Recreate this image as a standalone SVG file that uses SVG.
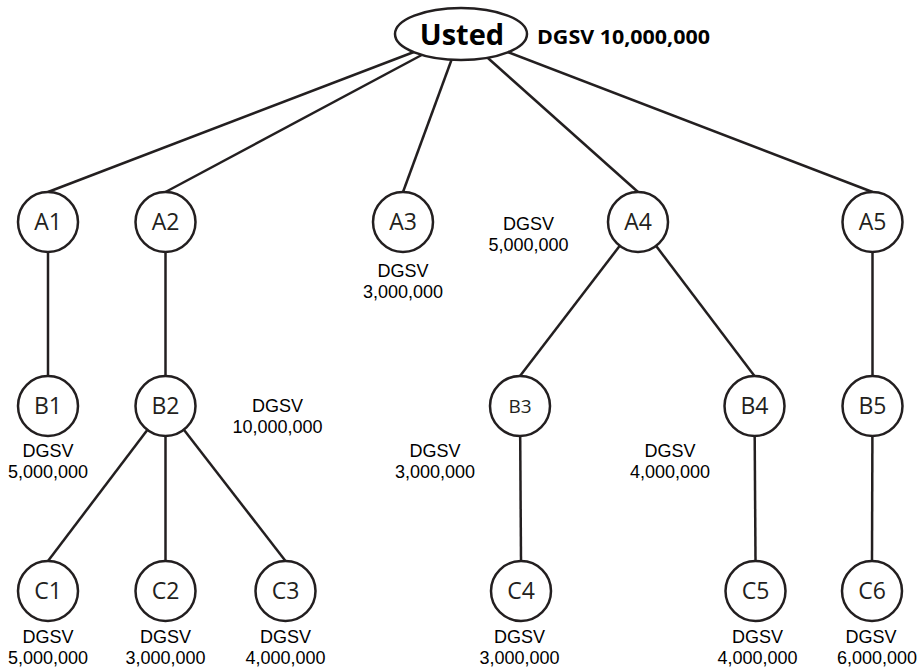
<svg xmlns="http://www.w3.org/2000/svg" width="922" height="670" viewBox="0 0 922 670">
<style>
.edge{stroke:#231f20;stroke-width:2.5;fill:none}
.node circle,.node ellipse{fill:#fff;stroke:#231f20;stroke-width:2.5}
.nl{font-family:"Open Sans","Noto Sans",sans-serif;font-size:23px;fill:#231f20;text-anchor:middle}
.nls{font-family:"Open Sans","Noto Sans",sans-serif;font-size:19px;fill:#231f20;text-anchor:middle}
.root{font-family:"Open Sans","Noto Sans",sans-serif;font-size:29px;font-weight:bold;fill:#000;text-anchor:middle}
.v{font-family:"Liberation Sans",Arial,sans-serif;font-size:18px;fill:#000;text-anchor:middle}
.vb{font-family:"Open Sans","Liberation Sans",sans-serif;font-size:20px;font-weight:bold;fill:#000}
</style>
<rect width="922" height="670" fill="#fff"/>
<g id="connectors">
<line class="edge" x1="461" y1="34" x2="48" y2="192"/>
<line class="edge" x1="461" y1="34" x2="165.5" y2="192"/>
<line class="edge" x1="461" y1="34" x2="403" y2="192"/>
<line class="edge" x1="461" y1="34" x2="638" y2="192"/>
<line class="edge" x1="461" y1="34" x2="872.5" y2="192"/>
<line class="edge" x1="48" y1="222" x2="48" y2="376"/>
<line class="edge" x1="165.5" y1="222" x2="165.5" y2="376"/>
<line class="edge" x1="638" y1="222" x2="520" y2="376"/>
<line class="edge" x1="638" y1="222" x2="754.5" y2="376"/>
<line class="edge" x1="872.5" y1="222" x2="872.5" y2="376"/>
<line class="edge" x1="165.5" y1="406" x2="48" y2="561"/>
<line class="edge" x1="165.5" y1="406" x2="165.5" y2="561"/>
<line class="edge" x1="165.5" y1="406" x2="285.5" y2="561"/>
<line class="edge" x1="520" y1="406" x2="521" y2="561"/>
<line class="edge" x1="754.5" y1="406" x2="755.5" y2="561"/>
<line class="edge" x1="872.5" y1="406" x2="872" y2="561"/>
</g>
<g id="root" class="node">
<ellipse cx="461" cy="34" rx="66" ry="26"/>
<text class="root" x="462" y="45">Usted</text>
<text class="vb" x="537" y="44" textLength="173" lengthAdjust="spacingAndGlyphs">DGSV 10,000,000</text>
</g>
<g id="A1" class="node"><circle cx="48" cy="222" r="30"/><text class="nl" x="48" y="230">A1</text></g>
<g id="A2" class="node"><circle cx="165.5" cy="222" r="30"/><text class="nl" x="165.5" y="230">A2</text></g>
<g id="A3" class="node"><circle cx="403" cy="222" r="30"/><text class="nl" x="403" y="230">A3</text>
<text class="v" x="403" y="277">DGSV</text><text class="v" x="403" y="298">3,000,000</text></g>
<g id="A4" class="node"><circle cx="638" cy="222" r="30"/><text class="nl" x="638" y="230">A4</text>
<text class="v" x="528.5" y="230">DGSV</text><text class="v" x="528.5" y="251">5,000,000</text></g>
<g id="A5" class="node"><circle cx="872.5" cy="222" r="30"/><text class="nl" x="872.5" y="230">A5</text></g>
<g id="B1" class="node"><circle cx="48" cy="406" r="30"/><text class="nl" x="48" y="414">B1</text>
<text class="v" x="48" y="457">DGSV</text><text class="v" x="48" y="478">5,000,000</text></g>
<g id="B2" class="node"><circle cx="165.5" cy="406" r="30"/><text class="nl" x="165.5" y="414">B2</text>
<text class="v" x="277.5" y="412">DGSV</text><text class="v" x="277.5" y="433">10,000,000</text></g>
<g id="B3" class="node"><circle cx="520" cy="406" r="30"/><text class="nls" x="520" y="413">B3</text>
<text class="v" x="435" y="457">DGSV</text><text class="v" x="435" y="478">3,000,000</text></g>
<g id="B4" class="node"><circle cx="754.5" cy="406" r="30"/><text class="nl" x="754.5" y="414">B4</text>
<text class="v" x="670" y="457">DGSV</text><text class="v" x="670" y="478">4,000,000</text></g>
<g id="B5" class="node"><circle cx="872.5" cy="406" r="30"/><text class="nl" x="872.5" y="414">B5</text></g>
<g id="C1" class="node"><circle cx="48" cy="591" r="30"/><text class="nl" x="48" y="599">C1</text>
<text class="v" x="48" y="643">DGSV</text><text class="v" x="48" y="664">5,000,000</text></g>
<g id="C2" class="node"><circle cx="165.5" cy="591" r="30"/><text class="nl" x="165.5" y="599">C2</text>
<text class="v" x="165.5" y="643">DGSV</text><text class="v" x="165.5" y="664">3,000,000</text></g>
<g id="C3" class="node"><circle cx="285.5" cy="591" r="30"/><text class="nl" x="285.5" y="599">C3</text>
<text class="v" x="285.5" y="643">DGSV</text><text class="v" x="285.5" y="664">4,000,000</text></g>
<g id="C4" class="node"><circle cx="521" cy="591" r="30"/><text class="nl" x="521" y="599">C4</text>
<text class="v" x="519.5" y="643">DGSV</text><text class="v" x="519.5" y="664">3,000,000</text></g>
<g id="C5" class="node"><circle cx="755.5" cy="591" r="30"/><text class="nl" x="755.5" y="599">C5</text>
<text class="v" x="757.5" y="643">DGSV</text><text class="v" x="757.5" y="664">4,000,000</text></g>
<g id="C6" class="node"><circle cx="872" cy="591" r="30"/><text class="nl" x="872" y="599">C6</text>
<text class="v" x="871" y="643">DGSV</text><text class="v" x="877" y="664">6,000,000</text></g>
</svg>
